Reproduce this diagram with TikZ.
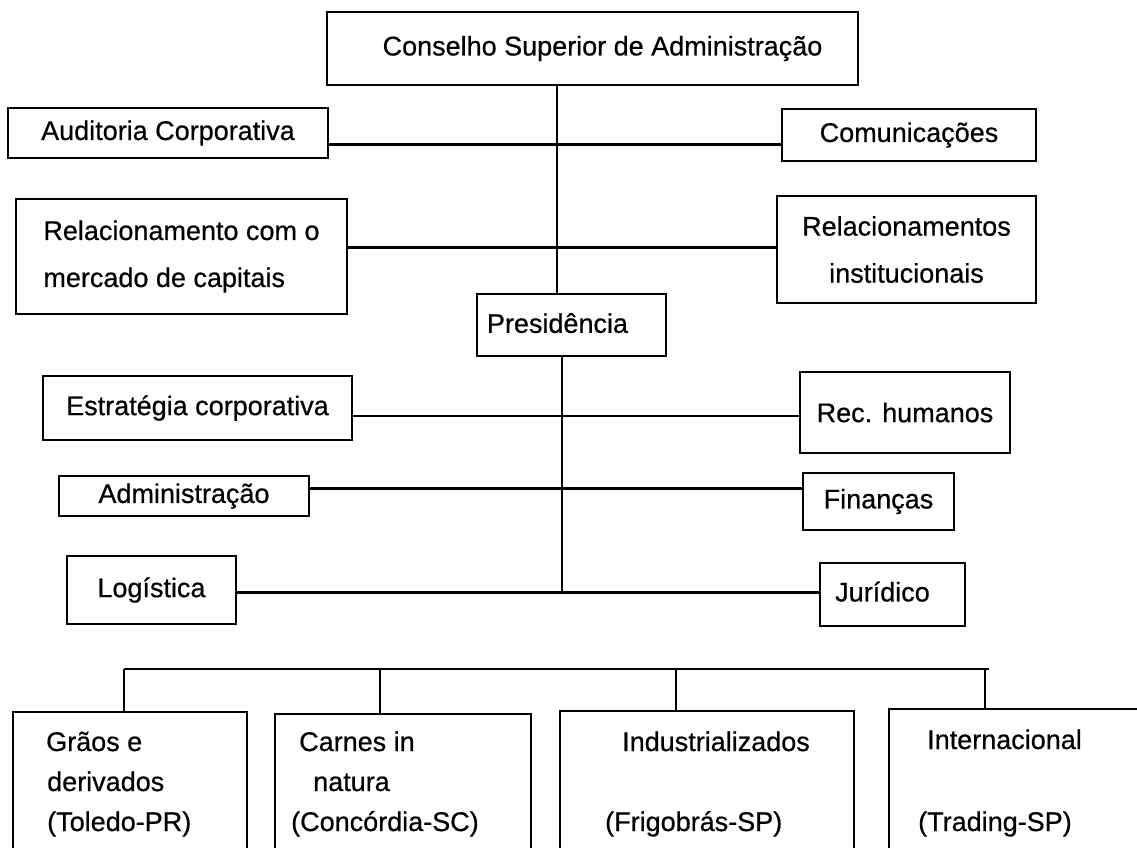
\documentclass[tikz,border=0pt]{standalone}
\usepackage{fontspec}
\setmainfont{Liberation Sans}[UprightFeatures={FakeBold=0.6}]
\usetikzlibrary{calc}
\begin{document}
\begin{tikzpicture}[x=1pt,y=-1pt,
  box/.style={draw, line width=1.9pt, inner sep=0pt, align=center,
    font=\fontsize{27}{47}\selectfont},
  lbl/.style={inner sep=0pt, anchor=base west, font=\fontsize{27}{33}\selectfont},
  link/.style={line width=2.8pt},
  trunk/.style={line width=1.2pt}]
\clip (0,0) rectangle (1137,847);

% board and advisory units
\node[box, minimum width=531pt, minimum height=73pt] (csa) at (592.5,48.5) {\hspace*{20pt}Conselho Superior de Administração};
\node[box, minimum width=320pt, minimum height=50pt] (aud) at (168,133) {Auditoria Corporativa};
\node[box, minimum width=254pt, minimum height=52pt] (com) at (909,135) {Comunicações};
\node[box, minimum width=331pt, minimum height=115pt, align=left] (rmc) at (181.5,256.5) {Relacionamento com o\\mercado de capitais};
\node[box, minimum width=259pt, minimum height=107pt] (rin) at (906.5,249.5) {Relacionamentos\\institucionais};

% presidency
\node[box, minimum width=189pt, minimum height=62pt] (pres) at (571.5,325) {\raisebox{4pt}{Presidência}\hspace*{28pt}};

% corporate departments
\node[box, minimum width=309pt, minimum height=64pt] (est) at (197.5,408) {Estratégia corporativa};
\node[box, minimum width=210pt, minimum height=81pt] (rh) at (905,412.5) {Rec. humanos};
\node[box, minimum width=250pt, minimum height=40pt] (adm) at (184,496) {Administração};
\node[box, minimum width=151pt, minimum height=57pt] (fin) at (878.5,501.5) {Finanças};
\node[box, minimum width=169pt, minimum height=68pt] (log) at (151.5,590) {Logística};
\node[box, minimum width=145pt, minimum height=63pt] (jur) at (892.5,594.5) {\raisebox{6pt}{Jurídico}\hspace*{20pt}};

% business units (boxes run past the lower edge)
\node[box, minimum width=234pt, minimum height=176pt] (gra) at (130,800) {};
\node[box, minimum width=256pt, minimum height=174pt] (car) at (403,801) {};
\node[box, minimum width=294pt, minimum height=177pt] (ind) at (707,799.5) {};
\node[box, minimum width=280pt, minimum height=180pt] (int) at (1029,799) {};

\node[lbl] (gra1) at (46,751) {Grãos e};
\node[lbl] (gra2) at (47,791) {derivados};
\node[lbl] (gra3) at (47,831) {(Toledo-PR)};
\node[lbl] (car1) at (299,751) {Carnes in};
\node[lbl] (car2) at (313,791) {natura};
\node[lbl] (car3) at (291,831) {(Concórdia-SC)};
\node[lbl] (ind1) at (622,751) {Industrializados};
\node[lbl] (ind3) at (605,831) {(Frigobrás-SP)};
\node[lbl] (int1) at (927,749) {Internacional};
\node[lbl] (int3) at (918,831) {(Trading-SP)};

% vertical trunk
\coordinate (ttop) at (557,90);
\coordinate (tend) at (562,592);
\draw[trunk] (csa.south -| ttop) -- (ttop |- pres.north);
\draw[trunk] (tend |- pres.south) -- (tend);

% horizontal links
\coordinate (l1) at ($(aud.north east)!0.72!(aud.south east)$);
\draw[link] (l1) -- (l1 -| com.west);
\coordinate (l2) at ($(rmc.north east)!0.42!(rmc.south east)$);
\draw[link] (l2) -- (l2 -| rin.west);
\coordinate (l3) at ($(est.north east)!0.62!(est.south east)$);
\draw[link] (l3) -- (l3 -| rh.west);
\coordinate (l4) at ($(adm.north east)!0.33!(adm.south east)$);
\draw[link] (l4) -- (l4 -| fin.west);
\coordinate (l5) at ($(log.north east)!0.53!(log.south east)$);
\draw[link] (l5) -- (l5 -| jur.west);

% business unit bar
\coordinate (b1) at (124,669);
\coordinate (b2) at (380,669);
\coordinate (b3) at (676,669);
\coordinate (b4) at (985,669);
\draw[line width=2.3pt] (b1) -- (989,669);
\foreach \b/\n in {b1/gra, b2/car, b3/ind, b4/int}
  \draw[line width=2.3pt] (\b) -- (\b |- \n.north);
\end{tikzpicture}
\end{document}
